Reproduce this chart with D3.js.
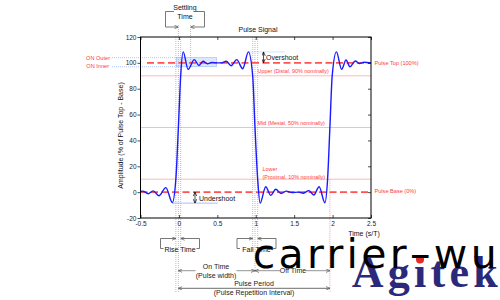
<!DOCTYPE html>
<html>
<head>
<meta charset="utf-8">
<script src="https://cdn.jsdelivr.net/npm/d3@7"></script>
<style>
  body { margin: 0; background: #fff; }
  svg { display: block; }
</style>
</head>
<body>
<div id="chart"></div>
<script>
// pulse waveform: time (s/T) and amplitude (% of top - base)
const sigT = [-0.5, -0.47, -0.40, -0.335, -0.26, -0.17, -0.086, -0.04, -0.007, 0.023,
  0.055, 0.12, 0.2, 0.26, 0.315, 0.37, 0.43, 0.5, 0.55, 0.615,
  0.68, 0.752, 0.83, 0.905, 0.96, 0.99, 1.025, 1.057, 1.13, 1.195,
  1.26, 1.33, 1.40, 1.47, 1.55, 1.62, 1.69, 1.755, 1.825, 1.90,
  1.935, 1.965, 1.995, 2.05, 2.118, 2.175, 2.226, 2.296, 2.347, 2.41, 2.5]
const sigV = [0.5, 0.8, -1.2, 1.0, -2.8, 3.5, -8.0, 10, 50, 90,
  108.5, 95, 102.5, 98, 101.3, 99.3, 100.4, 100, 100, 101.2,
  97.8, 102.5, 95.5, 108.5, 90, 50, 10, -8.5, 4.2, -2.5,
  2.2, -1, 0.8, -0.3, 0, -0.8, 1.2, -2.2, 4.2, -8.2,
  10, 50, 90, 108.5, 95, 102.2, 97, 101.4, 99.4, 100.5, 100]

const xTicks = [-0.5, 0, 0.5, 1, 1.5, 2, 2.5]
const yTicks = [-20, 0, 20, 40, 60, 80, 100, 120]

// reference levels (%)
const levelTop = 100, levelBase = 0
const thinLevels = [90, 50, 10]
const onOuter = 104, onInner = 97
const overshootPeak = 108.5, undershootPeak = -8.5

// crossing times (s/T)
const riseMarks = [-0.04, -0.007, 0.023]
const fallMarks = [0.96, 0.99, 1.025]
const settleEnd = 0.152
const nextRise = 1.965

const W = 500, H = 300
const red = '#ff3a3a', pink = '#ff7a7a', lightBlue = '#9fb6ff', gray = '#8a8a8a'

const x = d3.scaleLinear().domain([-0.5, 2.5]).range([140.5, 371])
const y = d3.scaleLinear().domain([-20, 120]).range([218, 37])

const svg = d3.select('#chart').append('svg')
  .attr('width', W).attr('height', H)
  .style('font-family', 'Arial, "Liberation Sans", sans-serif')

const defs = svg.append('defs')
let marker = (id, color) => {
  defs.append('marker').attr('id', id)
    .attr('viewBox', '0 0 8 8').attr('refX', 8).attr('refY', 4)
    .attr('markerWidth', 4).attr('markerHeight', 4)
    .attr('markerUnits', 'userSpaceOnUse')
    .attr('orient', 'auto-start-reverse')
    .append('path').attr('d', 'M0,0.5 L8,4 L0,7.5')
    .attr('fill', 'none').attr('stroke', color).attr('stroke-width', 1.4)
}
marker('arrGray', '#555')
marker('arrBlack', '#000')

let hline = (x1, x2, yy, color, width, dash) => svg.append('line')
  .attr('x1', x1).attr('x2', x2).attr('y1', yy).attr('y2', yy)
  .attr('stroke', color).attr('stroke-width', width)
  .attr('stroke-dasharray', dash)

let vline = (xx, y1, y2, color, width, dash) => svg.append('line')
  .attr('x1', xx).attr('x2', xx).attr('y1', y1).attr('y2', y2)
  .attr('stroke', color).attr('stroke-width', width)
  .attr('stroke-dasharray', dash)

let label = (t, xx, yy, size, color, anchor) => svg.append('text')
  .attr('x', xx).attr('y', yy)
  .attr('font-size', size).attr('fill', color)
  .attr('text-anchor', anchor || 'start')
  .attr('dominant-baseline', 'central')
  .text(t)

// settling band box
svg.append('rect')
  .attr('x', x(-0.03)).attr('y', y(onOuter))
  .attr('width', x(0.49) - x(-0.03)).attr('height', y(onInner) - y(onOuter))
  .attr('fill', '#dbe8ff').attr('stroke', lightBlue).attr('stroke-width', 0.6)
hline(112, x(-0.03), y(onOuter), lightBlue, 0.8, '1,1')
hline(112, x(-0.03), y(onInner), lightBlue, 0.8, '1,1')
label('ON Outer', 110, y(onOuter), 5.6, red, 'end')
label('ON Inner', 109, y(onInner) - 0.5, 5.6, red, 'end')

// thin reference levels
thinLevels.forEach(v => hline(x(-0.5), x(2.5), y(v), red, 0.7, '1,1'))
label('Upper (Distal, 90% nominally)', 257.5, 71, 5.4, red)
label('Mid (Mesial, 50% nominally)', 257.5, 122.7, 5.4, red)
label('Lower', 262.5, 169, 5.4, red)
label('(Proximal, 10% nominally)', 262.5, 176.5, 5.4, red)

// pulse top / base
hline(147, x(2.5), y(levelTop), '#ff5252', 1.6, '7,3.5')
hline(x(-0.5), x(2.5), y(levelBase), '#ff5252', 1.6, '7,3.5')
label('Pulse Top (100%)', 374.5, y(levelTop), 5.6, red)
label('Pulse Base  (0%)', 374.5, y(levelBase) - 0.8, 5.6, red)

// crossing markers
vline(x(riseMarks[0]), y(120), 292, pink, 0.7, '1,1')
vline(x(riseMarks[1]), 25, 292, pink, 0.7, '1,1')
vline(x(riseMarks[2]), y(120), 250, pink, 0.7, '1,1')
vline(x(settleEnd), 25, y(onInner), pink, 0.7, '1,1')
vline(x(fallMarks[0]), y(120), 250, pink, 0.7, '1,1')
vline(x(fallMarks[1]), y(120), 273, pink, 0.7, '1,1')
vline(x(fallMarks[2]), y(120), 250, pink, 0.7, '1,1')
vline(x(nextRise), y(10), 292, pink, 0.7, '1,1')

// overshoot / undershoot
hline(x(0.905), 285, y(overshootPeak), lightBlue, 0.8, '1,1')
svg.append('line')
  .attr('x1', 263.5).attr('x2', 263.5).attr('y1', y(100)).attr('y2', y(overshootPeak))
  .attr('stroke', '#000').attr('stroke-width', 0.7)
  .attr('marker-start', 'url(#arrBlack)').attr('marker-end', 'url(#arrBlack)')
label('Overshoot', 266, 57.5, 7, '#111')

hline(x(-0.086), 218, y(undershootPeak), lightBlue, 0.9, null)
svg.append('line')
  .attr('x1', 195).attr('x2', 195).attr('y1', y(0)).attr('y2', y(undershootPeak))
  .attr('stroke', '#000').attr('stroke-width', 0.7)
  .attr('marker-start', 'url(#arrBlack)').attr('marker-end', 'url(#arrBlack)')
label('Undershoot', 199, 198.5, 7, '#111')

// the signal
let sigLine = d3.line()
  .x((d, i) => x(sigT[i]))
  .y(d => y(d))
  .curve(d3.curveMonotoneX)

svg.append('path').datum(sigV)
  .attr('d', sigLine)
  .attr('fill', 'none').attr('stroke', '#1a1aff').attr('stroke-width', 1.4)

// axes and frame
let axisStyle = g => {
  g.select('.domain').remove()
  g.selectAll('.tick line').attr('stroke', '#000').attr('stroke-width', 0.7)
  g.selectAll('.tick text').attr('font-size', 6.5).attr('fill', '#222')
    .attr('font-family', 'Arial, "Liberation Sans", sans-serif')
}
svg.append('g').attr('transform', 'translate(140.5,0)')
  .call(d3.axisLeft(y).tickValues(yTicks).tickSize(3).tickPadding(1).tickFormat(d => String(d)))
  .call(axisStyle)
svg.append('g').attr('transform', 'translate(0,218)')
  .call(d3.axisBottom(x).tickValues(xTicks).tickSize(-3).tickPadding(3.5).tickFormat(d => String(d)))
  .call(axisStyle)
svg.append('g').attr('transform', 'translate(0,37)')
  .call(d3.axisTop(x).tickValues(xTicks).tickSize(-3).tickFormat(''))
  .call(axisStyle)
svg.append('g').attr('transform', 'translate(371,0)')
  .call(d3.axisRight(y).tickValues(yTicks).tickSize(-3).tickFormat(''))
  .call(axisStyle)

svg.append('rect')
  .attr('x', 140.5).attr('y', 37).attr('width', 371 - 140.5).attr('height', 218 - 37)
  .attr('fill', 'none').attr('stroke', '#000').attr('stroke-width', 1)

label('Pulse Signal', 258, 29.5, 7, '#111', 'middle')
label('Time (s/T)', 364, 233, 7, '#111', 'middle')
svg.append('text')
  .attr('transform', 'translate(120,135.5) rotate(-90)')
  .attr('font-size', 7).attr('fill', '#111')
  .attr('text-anchor', 'middle').attr('dominant-baseline', 'central')
  .text('Amplitude (% of Pulse Top - Base)')

// settling time bracket
svg.append('path')
  .attr('d', `M174,11.5 H165.5 V27 H${x(riseMarks[1])}`)
  .attr('fill', 'none').attr('stroke', '#555').attr('stroke-width', 0.8)
  .attr('marker-end', 'url(#arrGray)')
svg.append('path')
  .attr('d', `M196,11.5 H204.5 V27 H${x(settleEnd)}`)
  .attr('fill', 'none').attr('stroke', '#555').attr('stroke-width', 0.8)
  .attr('marker-end', 'url(#arrGray)')
label('Settling', 185, 7, 7, '#111', 'middle')
label('Time', 185, 16, 7, '#111', 'middle')

// rise / fall time brackets
let bracket = (left, right, tipL, tipR, text) => {
  svg.append('path')
    .attr('d', `M${left + 3},248.5 H${left} V238.5 H${tipL}`)
    .attr('fill', 'none').attr('stroke', '#555').attr('stroke-width', 0.8)
    .attr('marker-end', 'url(#arrGray)')
  svg.append('path')
    .attr('d', `M${right - 3},248.5 H${right} V238.5 H${tipR}`)
    .attr('fill', 'none').attr('stroke', '#555').attr('stroke-width', 0.8)
    .attr('marker-end', 'url(#arrGray)')
  label(text, (left + right) / 2, 249, 7, '#111', 'middle')
}
bracket(160.5, 199.5, x(riseMarks[0]), x(riseMarks[2]), 'Rise Time')
bracket(237, 276, x(fallMarks[0]), x(fallMarks[2]), 'Fall Time')

// on / off time and period
let span = (x1, x2, yy, width, gaps) => {
  let pts = [x1].concat(gaps.flat()).concat([x2])
  for (let i = 0; i < pts.length; i += 2) {
    let seg = svg.append('line')
      .attr('x1', pts[i]).attr('x2', pts[i + 1]).attr('y1', yy).attr('y2', yy)
      .attr('stroke', gray).attr('stroke-width', width)
    if (i === 0) seg.attr('marker-start', 'url(#arrGray)')
    if (i === pts.length - 2) seg.attr('marker-end', 'url(#arrGray)')
  }
}
span(x(riseMarks[1]), x(fallMarks[1]), 270.7, 0.9, [[195.5, 236.5]])
label('On Time', 216, 266.5, 7, '#222', 'middle')
label('(Pulse width)', 216, 275, 7, '#222', 'middle')
span(x(fallMarks[1]), x(nextRise), 270.7, 0.9, [[280, 306]])
label('Off Time', 293, 270.5, 7, '#222', 'middle')
span(x(riseMarks[1]), x(nextRise), 288.3, 1.3, [])
label('Pulse Period', 254, 283, 7, '#222', 'middle')
label('(Pulse Repetition Interval)', 254, 292.5, 7, '#222', 'middle')

// logo and watermark
svg.append('text')
  .attr('x', 351.7).attr('y', 286.5)
  .attr('font-family', '"Liberation Serif", "Times New Roman", serif')
  .attr('font-weight', 'bold').attr('font-size', 44)
  .attr('fill', '#2b2a7a')
  .attr('textLength', 146).attr('lengthAdjust', 'spacing')
  .text('Agitek')
svg.append('circle').attr('cx', 420).attr('cy', 259.5).attr('r', 4).attr('fill', '#e32b2b')

svg.append('text')
  .attr('x', 252.7).attr('y', 267.5)
  .attr('font-family', '"DejaVu Sans", sans-serif')
  .attr('font-size', 41).attr('fill', '#000')
  .attr('textLength', 244).attr('lengthAdjust', 'spacing')
  .text('carrier–wu')
</script>
</body>
</html>
